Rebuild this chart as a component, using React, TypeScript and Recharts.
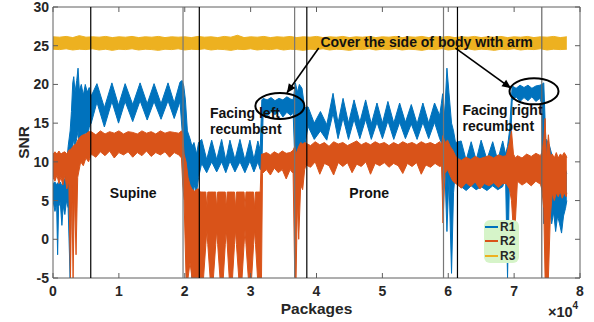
import React from 'react';
import {
  ComposedChart,
  Area,
  XAxis,
  YAxis,
  ReferenceLine,
  ReferenceArea,
  ReferenceDot,
  Legend,
  Label,
} from 'recharts';

// ---------------- data ----------------
const SERIES_NAMES = ['R1', 'R2', 'R3'];
const X_TICKS = [0, 10000, 20000, 30000, 40000, 50000, 60000, 70000, 80000];
const X_TICK_LABELS = ['0', '1', '2', '3', '4', '5', '6', '7', '8'];
const Y_TICKS = [-5, 0, 5, 10, 15, 20, 25, 30];
const X_TITLE = 'Packages';
const X_EXPONENT_BASE = '\u00d710';
const X_EXPONENT = '4';
const Y_TITLE = 'SNR';

// posture change boundaries (packages)
const BOUNDARIES = [5730, 19740, 22210, 36680, 38530, 59280, 61400, 74200];

// [packages, low envelope, high envelope]
const R1_BAND: [number, number, number][] = [
  [0, 5.0, 7.2], [300, 3.6, 7.4], [550, 4.6, 7.0], [700, -2.0, 7.3], [850, 4.2, 7.1],
  [1100, 4.8, 7.4], [1350, 1.8, 6.9], [1550, 4.3, 7.5], [1800, 3.2, 7.8], [2050, 5.0, 9.5],
  [2300, 4.0, 12.0], [2600, -5.0, 14.0], [2800, 10.0, 16.5], [3000, 12.0, 20.2], [3150, 13.0, 21.0],
  [3350, 12.0, 19.0], [3600, 13.0, 20.5], [3800, 14.0, 22.1], [4000, 12.0, 19.2], [4300, 13.5, 20.0],
  [4600, 12.5, 18.6], [4900, 14.0, 20.0], [5200, 12.8, 19.0], [5500, 14.5, 19.6], [5800, 15.0, 18.5],
  [6670, 17.7, 20.1], [7800, 14.5, 17.0], [8940, 17.8, 20.2], [9950, 15.0, 17.3], [10950, 17.8, 20.1],
  [12100, 15.2, 17.4], [13220, 17.9, 20.2], [14300, 15.4, 17.5], [15340, 17.8, 20.1], [16400, 15.5, 17.5],
  [17460, 17.9, 20.2], [18400, 15.6, 17.6], [19280, 17.8, 20.3], [19600, 14.0, 20.5], [19850, 10.0, 19.8],
  [20100, 6.0, 18.0], [20400, -5.0, 14.0], [20800, 6.0, 13.0], [21100, -5.0, 12.0], [21400, 7.0, 12.5],
  [21800, 6.1, 11.0], [22100, 8.0, 12.5],
  [22570, 9.8, 12.9], [23330, 8.6, 10.3], [24090, 10.0, 12.8], [24850, 8.7, 10.3], [25600, 10.0, 12.9],
  [26230, 8.6, 10.2], [26860, 10.1, 12.8], [27620, 8.7, 10.3], [28380, 10.0, 12.9], [29130, 8.6, 10.2],
  [29890, 10.1, 12.8], [30500, 8.7, 10.3], [31100, 10.0, 12.7], [31450, 9.0, 11.5], [31700, 9.0, 18.0],
  [31900, 16.3, 18.2], [32500, 15.9, 18.0], [33100, 16.5, 18.3], [33700, 16.1, 17.9], [34300, 16.6, 18.2],
  [34900, 15.8, 18.0], [35500, 16.4, 18.4], [36100, 16.0, 18.1], [36450, 16.4, 18.0], [36800, 8.0, 20.2],
  [37100, 12.0, 19.0], [37400, 10.0, 20.0], [37800, 11.5, 19.5], [38200, 12.0, 17.0],
  [38720, 14.6, 17.1], [39660, 12.9, 15.0], [40600, 14.0, 16.5], [41560, 12.8, 14.8], [42510, 16.3, 18.85],
  [43270, 13.0, 15.0], [44030, 15.7, 18.2], [44860, 12.9, 15.0], [45700, 15.5, 18.0], [46580, 13.0, 15.1],
  [47460, 15.5, 18.0], [48320, 12.9, 14.9], [49180, 15.1, 17.6], [50010, 13.0, 15.0], [50840, 15.3, 17.8],
  [51730, 12.9, 15.0], [52620, 15.1, 17.6], [53500, 13.0, 15.1], [54390, 14.9, 17.4], [55270, 12.9, 14.9],
  [56150, 15.1, 17.6], [57030, 13.0, 15.0], [57920, 15.1, 17.6], [58700, 13.0, 16.0], [58950, 12.5, 17.5],
  [59150, 6.4, 18.8], [59450, 10.0, 16.0], [59800, 1.0, 22.1], [60100, 8.0, 19.0], [60500, -4.4, 15.0],
  [60800, 6.0, 14.0], [61100, 9.0, 12.5],
  [61960, 6.8, 12.7], [62720, 6.3, 10.2], [63480, 6.9, 12.6], [64240, 6.4, 10.2], [64990, 6.8, 12.8],
  [65870, 6.3, 10.3], [66750, 6.9, 12.6], [67510, 6.4, 10.2], [68270, 6.8, 12.7], [68700, 8.0, 11.0],
  [69000, -5.0, 12.0], [69300, 8.0, 14.0], [69700, 17.9, 19.8], [70300, 18.4, 19.5], [70900, 17.8, 19.9],
  [71500, 18.3, 19.6], [72100, 17.9, 19.9], [72700, 18.4, 19.5], [73300, 17.8, 19.8], [73900, 18.2, 19.9],
  [74200, 17.5, 20.0], [74500, 2.0, 20.2], [74800, 5.0, 13.0], [75100, 1.5, 12.6], [75400, 4.0, 12.0],
  [75700, 2.0, 11.0], [76000, 3.5, 10.0], [76300, 1.0, 9.5], [76600, 3.0, 10.5], [76900, 2.0, 9.0],
  [77200, 0.8, 9.5], [77500, 3.0, 8.0], [77800, 4.0, 9.0], [78000, 5.0, 8.5],
];

const R2_BAND: [number, number, number][] = [
  [0, 8.0, 11.0], [300, 7.5, 11.3], [600, 8.3, 11.0], [900, 7.2, 11.4], [1200, 8.0, 11.0],
  [1500, 7.0, 11.2], [1800, 8.3, 11.3], [2100, 6.5, 11.0], [2400, 7.5, 11.5], [2650, -5.0, 11.6],
  [2850, 7.0, 11.8], [3050, -5.0, 12.0], [3250, 6.0, 12.2], [3500, -2.0, 12.3], [3750, 8.0, 12.8],
  [4200, 10.0, 13.3], [4600, 9.5, 13.5], [5000, 10.5, 13.6], [5400, 10.0, 13.9], [5800, 11.0, 13.9],
  [6500, 10.6, 13.5], [7200, 11.3, 14.0], [7900, 10.8, 13.6], [8600, 11.4, 13.9], [9300, 10.5, 13.7],
  [10000, 11.2, 14.0], [10700, 10.9, 13.6], [11400, 11.3, 13.9], [12100, 10.6, 13.8], [12800, 11.2, 13.6],
  [13500, 10.8, 14.0], [14200, 11.4, 13.7], [14900, 10.7, 13.9], [15600, 11.2, 13.6], [16300, 10.9, 14.0],
  [17000, 11.3, 13.7], [17700, 10.6, 13.9], [18400, 11.2, 13.8], [19100, 10.9, 13.7], [19500, 10.5, 14.0],
  [19700, 7.0, 13.5], [19900, 5.0, 11.0], [20200, -5.0, 10.0], [20500, -5.0, 8.0], [20800, -3.0, 7.0],
  [21100, -5.0, 6.5], [21500, -5.0, 6.2], [21900, -5.0, 6.5],
  [22100, -5.0, 6.5], [22350, -5.0, 6.1], [22850, -5.0, 6.1], [23200, -0.7, 6.1], [23350, 1.2, 4.0],
  [23500, -0.7, 6.1], [23850, -5.0, 6.1], [24350, -5.0, 6.1], [24700, -0.7, 6.1], [24850, 1.2, 4.0],
  [25000, -0.7, 6.1], [25350, -5.0, 6.1], [25850, -5.0, 6.1], [26150, -0.7, 6.1], [26300, 1.2, 4.0],
  [26450, -0.7, 6.1], [26750, -5.0, 6.1], [27250, -5.0, 6.1], [27550, -0.7, 6.1], [27700, 1.2, 4.0],
  [27850, -0.7, 6.1], [28200, -5.0, 6.1], [28700, -5.0, 6.1], [29000, -0.7, 6.1], [29150, 1.2, 4.0],
  [29300, -0.7, 6.1], [29650, -5.0, 6.1], [30150, -5.0, 6.1], [30450, -0.7, 6.1], [30600, 1.2, 4.0],
  [30750, -0.7, 6.1], [31050, -5.0, 6.1], [31450, -5.0, 6.1], [31650, -5.0, 11.0], [31800, 8.5, 11.0],
  [32400, 9.0, 11.2], [33000, 8.3, 10.9], [33600, 9.2, 11.3], [34200, 8.6, 11.0], [34800, 9.0, 11.4],
  [35400, 7.8, 11.1], [36000, 9.0, 11.2], [36450, 8.5, 11.5], [36700, -5.0, 12.0], [36900, -5.0, 11.0],
  [37100, 5.0, 11.5], [37300, 0.0, 12.0], [37600, 7.0, 12.5], [37900, 6.4, 12.3], [38200, 9.0, 12.5],
  [38400, 9.6, 12.4], [39100, 9.3, 12.1], [39800, 10.0, 12.6], [40500, 8.4, 12.2], [41200, 9.8, 12.5],
  [41900, 9.5, 12.0], [42600, 8.3, 12.6], [43300, 9.9, 12.3], [44000, 9.4, 12.5], [44700, 9.9, 12.1],
  [45400, 8.6, 12.4], [46100, 9.7, 12.7], [46800, 9.4, 12.2], [47500, 10.0, 12.5], [48200, 8.4, 12.2],
  [48900, 9.8, 12.6], [49600, 9.5, 12.3], [50300, 9.9, 12.5], [51000, 9.3, 12.1], [51700, 9.8, 12.5],
  [52400, 9.5, 12.2], [53100, 8.5, 12.6], [53800, 9.8, 12.3], [54500, 9.4, 12.5], [55200, 9.9, 12.2],
  [55900, 8.4, 12.6], [56600, 9.6, 12.3], [57300, 9.3, 12.5], [58000, 9.8, 12.2], [58700, 9.4, 12.6],
  [59000, 9.5, 12.2], [59200, 2.1, 13.4], [59500, 8.5, 12.5], [59900, 9.0, 12.8], [60300, 8.2, 12.0],
  [60700, 7.5, 11.5], [61100, 7.2, 10.8], [61300, 7.1, 10.5], [62000, 6.6, 10.2], [62700, 7.3, 10.6],
  [63400, 6.8, 10.3], [64100, 7.4, 10.7], [64800, 6.5, 10.4], [65500, 7.2, 10.6], [66200, 6.9, 10.8],
  [66900, 7.3, 10.5], [67600, 6.7, 10.9], [68300, 7.2, 10.7], [68800, 7.2, 10.8], [69300, 6.5, 12.5],
  [69600, 5.0, 14.0], [69900, 1.0, 11.0], [70200, 2.5, 10.5], [70500, 7.5, 10.8], [71200, 7.0, 10.5],
  [71900, 7.4, 11.0], [72600, 6.9, 10.7], [73300, 7.5, 11.1], [74000, 7.1, 10.8], [74200, 6.5, 11.2],
  [74500, 4.0, 12.8], [74700, -5.0, 15.6], [74900, -5.0, 10.5], [75200, -5.0, 13.5], [75500, 3.0, 10.8],
  [75800, 6.0, 11.0], [76100, 5.0, 10.5], [76400, 6.0, 11.2], [76700, 5.5, 10.5], [77000, 6.2, 11.0],
  [77300, 5.3, 10.8], [77600, 6.0, 11.2], [77900, 5.5, 10.8], [78000, 6.0, 10.5],
];

const R3_BAND: [number, number, number][] = [
  [0, 24.55, 26.15], [1000, 24.5, 26.1], [2000, 24.6, 26.2], [3000, 24.45, 26.05], [4000, 24.55, 26.3],
  [5000, 24.5, 26.1], [6000, 24.6, 26.15], [7000, 24.45, 26.1], [8000, 24.55, 26.2], [9000, 24.4, 26.05],
  [10000, 24.55, 26.15], [11000, 24.5, 26.1], [12000, 24.6, 26.2], [13000, 24.45, 26.05], [14000, 24.55, 26.15],
  [15000, 24.5, 26.1], [16000, 24.4, 26.2], [17000, 24.55, 26.05], [18000, 24.5, 26.15], [19000, 24.6, 26.1],
  [20000, 24.45, 26.15], [21000, 24.55, 26.05], [22000, 24.5, 26.2], [23000, 24.6, 26.1], [24000, 24.45, 26.15],
  [25000, 24.55, 26.05], [26000, 24.5, 26.2], [27000, 24.4, 26.1], [28000, 24.55, 26.35], [29000, 24.5, 26.05],
  [30000, 24.6, 26.15], [31000, 24.45, 26.1], [32000, 24.55, 26.2], [33000, 24.5, 26.05], [34000, 24.6, 26.15],
  [35000, 24.45, 26.1], [36000, 24.55, 26.2], [37000, 24.5, 26.05], [38000, 24.4, 26.15], [39000, 24.55, 26.1],
  [40000, 24.5, 26.2], [41000, 24.6, 26.05], [42000, 24.45, 26.15], [43000, 24.55, 26.1], [44000, 24.5, 26.2],
  [45000, 24.4, 26.05], [46000, 24.55, 26.15], [47000, 24.5, 26.1], [48000, 24.6, 26.2], [49000, 24.45, 26.05],
  [50000, 24.55, 26.15], [51000, 24.5, 26.1], [52000, 24.6, 26.2], [53000, 24.45, 26.05], [54000, 24.55, 26.15],
  [55000, 24.5, 26.1], [56000, 24.4, 26.2], [57000, 24.55, 26.05], [58000, 24.5, 26.15], [59000, 24.6, 26.1],
  [60000, 24.45, 26.2], [61000, 24.55, 26.05], [62000, 24.5, 26.15], [63000, 24.6, 26.1], [64000, 24.45, 26.2],
  [65000, 24.55, 26.05], [66000, 24.5, 26.15], [67000, 24.4, 26.1], [68000, 24.55, 26.2], [69000, 24.5, 26.05],
  [70000, 24.6, 26.15], [71000, 24.45, 26.1], [72000, 24.55, 26.2], [73000, 24.5, 26.05], [74000, 24.6, 26.15],
  [75000, 24.45, 26.1], [76000, 24.55, 26.2], [77000, 24.5, 26.05], [78000, 24.55, 26.15],
];

// annotations anchored at data coordinates (packages, SNR)
const POSTURE_TEXTS = [
  { lines: ['Supine'], x: 12170, y: 5.98, anchor: 'middle' },
  { lines: ['Prone'], x: 48000, y: 5.94, anchor: 'middle' },
  { lines: ['Facing left', 'recumbent'], x: 23830, y: 16.31, anchor: 'start' },
  { lines: ['Facing right', 'recumbent'], x: 62160, y: 16.7, anchor: 'start' },
];
const NOTE_TEXT = { text: 'Cover the side of body with arm', x: 40600, y: 25.52 };
const HIGHLIGHTS = [
  { x: 34440, y: 17.21 },
  { x: 73020, y: 19.11 },
];
const ARROWS = [
  { from: { x: 40340, y: 24.7 }, to: { x: 35500, y: 18.9 }, angle: 125.4 },
  { from: { x: 61100, y: 24.7 }, to: { x: 69540, y: 19.5 }, angle: 35.9 },
];

// ---------------- styles ----------------
const COLORS = ['#0072BD', '#D95319', '#EDB120'];
const BOUNDARY_STROKES = ['#000000', '#777777', '#000000', '#777777', '#000000', '#777777', '#000000', '#666666'];
const PLOT = { left: 53, top: 7, right: 580, bottom: 278 };
const AXIS_COLOR = '#5e5e5e';
const TEXT_COLOR = '#262626';
const FONT = '"Liberation Sans", Arial, Helvetica, sans-serif';

const toRows = (band: [number, number, number][]) =>
  band.map(([x, lo, hi]) => ({ x, band: [lo, hi] }));

const r1Rows = toRows(R1_BAND);
const r2Rows = toRows(R2_BAND);
const r3Rows = toRows(R3_BAND);

function XTick(props: any) {
  const { x, payload } = props;
  const label = X_TICK_LABELS[X_TICKS.indexOf(payload.value)];
  return (
    <g>
      <line x1={x} x2={x} y1={PLOT.bottom} y2={PLOT.bottom - 5} stroke={AXIS_COLOR} />
      <line x1={x} x2={x} y1={PLOT.top} y2={PLOT.top + 5} stroke={AXIS_COLOR} />
      <text x={x} y={PLOT.bottom + 18} textAnchor="middle" fontSize={14} fontWeight="bold" fill={TEXT_COLOR} fontFamily={FONT}>
        {label}
      </text>
    </g>
  );
}

function YTick(props: any) {
  const { y, payload } = props;
  return (
    <g>
      <line x1={PLOT.left} x2={PLOT.left + 5} y1={y} y2={y} stroke={AXIS_COLOR} />
      <line x1={PLOT.right} x2={PLOT.right - 5} y1={y} y2={y} stroke={AXIS_COLOR} />
      <text x={PLOT.left - 4} y={y + 5} textAnchor="end" fontSize={14} fontWeight="bold" fill={TEXT_COLOR} fontFamily={FONT}>
        {payload.value}
      </text>
    </g>
  );
}

function LegendBox() {
  return (
    <div
      style={{
        width: 35,
        height: 43,
        background: '#d6f4c9',
        borderRadius: 6,
        fontFamily: FONT,
        fontWeight: 'bold',
        fontSize: 12,
        color: TEXT_COLOR,
        boxSizing: 'border-box',
        paddingTop: 0,
      }}
    >
      {SERIES_NAMES.map((name, i) => (
        <div key={name} style={{ display: 'flex', alignItems: 'center', height: 14.3, lineHeight: '14px' }}>
          <span style={{ display: 'inline-block', width: 13, height: 2, background: COLORS[i], marginLeft: 1, marginRight: 2 }} />
          <span>{name}</span>
        </div>
      ))}
    </div>
  );
}

const textStyle = { fontFamily: FONT, fontWeight: 'bold' as const, fill: '#111' };

export default function App() {
  return (
    <div style={{ position: 'absolute', left: 0, top: 0, width: 594, height: 322, background: '#fff' }}>
      <ComposedChart width={594} height={322} margin={{ top: 7, right: 14, bottom: 0, left: 0 }}>
        <XAxis
          dataKey="x"
          type="number"
          domain={[0, 80000]}
          ticks={X_TICKS}
          interval={0}
          allowDataOverflow
          height={44}
          tickLine={false}
          axisLine={false}
          tick={<XTick />}
        >
          <Label
            content={() => (
              <text x={(PLOT.left + PLOT.right) / 2} y={314} textAnchor="middle" fontSize={15.5} {...textStyle} fill={TEXT_COLOR}>
                {X_TITLE}
              </text>
            )}
          />
        </XAxis>
        <YAxis
          type="number"
          domain={[-5, 30]}
          ticks={Y_TICKS}
          interval={0}
          allowDataOverflow
          width={53}
          tickLine={false}
          axisLine={false}
          tick={<YTick />}
        >
          <Label
            content={() => (
              <text transform={`translate(29, ${(PLOT.top + PLOT.bottom) / 2}) rotate(-90)`} textAnchor="middle" fontSize={15.5} {...textStyle} fill={TEXT_COLOR}>
                {Y_TITLE}
              </text>
            )}
          />
        </YAxis>

        <Area data={r1Rows} dataKey="band" name={SERIES_NAMES[0]} type="linear" stroke={COLORS[0]} strokeWidth={1} fill={COLORS[0]} fillOpacity={1} isAnimationActive={false} dot={false} activeDot={false} />
        <Area data={r2Rows} dataKey="band" name={SERIES_NAMES[1]} type="linear" stroke={COLORS[1]} strokeWidth={1} fill={COLORS[1]} fillOpacity={1} isAnimationActive={false} dot={false} activeDot={false} />
        <Area data={r3Rows} dataKey="band" name={SERIES_NAMES[2]} type="linear" stroke={COLORS[2]} strokeWidth={1} fill={COLORS[2]} fillOpacity={1} isAnimationActive={false} dot={false} activeDot={false} />

        {BOUNDARIES.map((b, i) => (
          <ReferenceLine key={b} x={b} stroke={BOUNDARY_STROKES[i]} strokeWidth={1.2} />
        ))}

        <ReferenceArea x1={0} x2={80000} y1={-5} y2={30} fill="none" stroke={AXIS_COLOR} strokeWidth={1} ifOverflow="visible" />

        {POSTURE_TEXTS.map((t) => (
          <ReferenceDot
            key={t.lines[0]}
            x={t.x}
            y={t.y}
            r={0}
            shape={(p: any) => (
              <text x={p.cx} y={p.cy + 5} textAnchor={t.anchor as any} fontSize={14} {...textStyle}>
                {t.lines.map((ln, k) => (
                  <tspan key={k} x={p.cx} dy={k === 0 ? 0 : 16.5}>
                    {ln}
                  </tspan>
                ))}
              </text>
            )}
          />
        ))}

        {HIGHLIGHTS.map((h) => (
          <ReferenceDot
            key={h.x}
            x={h.x}
            y={h.y}
            r={0}
            shape={(p: any) => <ellipse cx={p.cx} cy={p.cy} rx={24.5} ry={13} fill="none" stroke="#000" strokeWidth={2} />}
          />
        ))}

        {ARROWS.map((a) => (
          <ReferenceLine key={a.from.x} segment={[a.from, a.to]} stroke="#000" strokeWidth={1.6} />
        ))}
        {ARROWS.map((a) => (
          <ReferenceDot
            key={'h' + a.to.x}
            x={a.to.x}
            y={a.to.y}
            r={0}
            shape={(p: any) => (
              <polygon points="0,0 -9,-4 -9,4" transform={`translate(${p.cx},${p.cy}) rotate(${a.angle})`} fill="#000" />
            )}
          />
        ))}

        <ReferenceDot
          x={NOTE_TEXT.x}
          y={NOTE_TEXT.y}
          r={0}
          shape={(p: any) => (
            <text x={p.cx} y={p.cy + 5} textAnchor="start" fontSize={14} {...textStyle}>
              {NOTE_TEXT.text}
            </text>
          )}
        />

        <Legend
          layout="vertical"
          align="center"
          verticalAlign="middle"
          content={() => <LegendBox />}
          wrapperStyle={{ left: 484, top: 220, width: 35, height: 43 }}
        />
      </ComposedChart>
      <svg width={60} height={20} style={{ position: 'absolute', left: 540, top: 300 }}>
        <text x={8} y={17} fontSize={14.5} fontFamily={FONT} fontWeight="bold" fill={TEXT_COLOR}>
          {X_EXPONENT_BASE}
          <tspan dy={-8} fontSize={10}>
            {X_EXPONENT}
          </tspan>
        </text>
      </svg>
    </div>
  );
}
